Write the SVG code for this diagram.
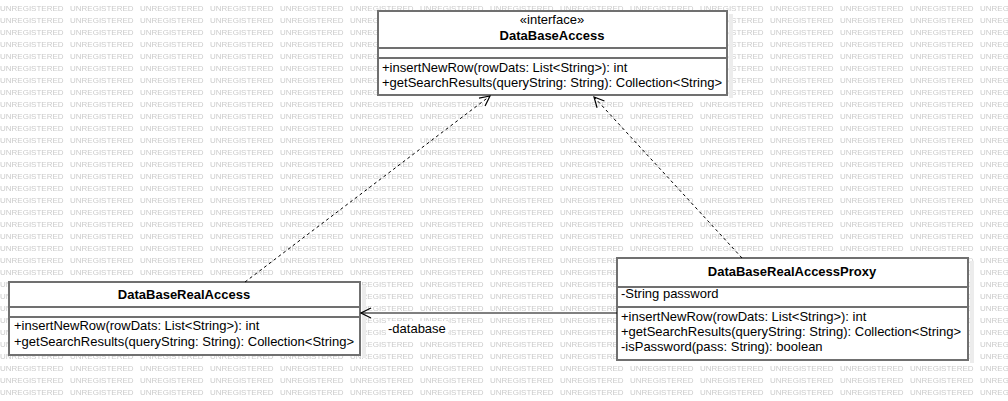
<svg xmlns="http://www.w3.org/2000/svg" width="1008" height="401" viewBox="0 0 1008 401">
<style>
.wm{font-family:"Liberation Sans",Arial,sans-serif;font-size:8px;fill:#cbcbcb;}
.box{fill:#fff;stroke:#707070;stroke-width:2;}
.shadow{fill:#ececec;}
.div{stroke:#707070;stroke-width:2;}
.t{font-family:"Liberation Sans",Arial,sans-serif;font-size:13px;fill:#000;}
.b{font-weight:bold;text-anchor:middle;}
.c{text-anchor:middle;}
.dash{fill:none;stroke:#000;stroke-width:1;stroke-dasharray:3,3;}
.solid{fill:none;stroke:#000;stroke-width:1;}
</style>
<defs>
<pattern id="wmp" x="0" y="0" width="70" height="12" patternUnits="userSpaceOnUse">
<text class="wm" x="0" y="11">UNREGISTERED</text>
</pattern>
<marker id="open" viewBox="0 0 12 12" refX="11" refY="6" markerWidth="12" markerHeight="12" markerUnits="userSpaceOnUse" orient="auto">
<path d="M1,1 L11,6 L1,11" fill="none" stroke="#000" stroke-width="1.2" stroke-dasharray="none"/>
</marker>
</defs>
<rect width="1008" height="401" fill="#fff"/>
<rect width="1008" height="401" fill="url(#wmp)"/>

<g id="node-DataBaseAccess">
<rect class="shadow" x="729" y="14" width="4" height="84"/>
<rect class="box" x="378" y="11" width="349" height="84"/>
<line class="div" x1="378" y1="48" x2="727" y2="48"/>
<line class="div" x1="378" y1="58" x2="727" y2="58"/>
<text class="t c" x="552" y="24">«interface»</text>
<text class="t b" x="552" y="40">DataBaseAccess</text>
<text class="t" x="382" y="72">+insertNewRow(rowDats: List&lt;String&gt;): int</text>
<text class="t" x="382" y="87">+getSearchResults(queryString: String): Collection&lt;String&gt;</text>
</g>

<g id="node-DataBaseRealAccess">
<rect class="shadow" x="362" y="285" width="4" height="73"/>
<rect class="box" x="9" y="282" width="351" height="73"/>
<line class="div" x1="9" y1="307" x2="360" y2="307"/>
<line class="div" x1="9" y1="317" x2="360" y2="317"/>
<text class="t b" x="184" y="299">DataBaseRealAccess</text>
<text class="t" x="14" y="330">+insertNewRow(rowDats: List&lt;String&gt;): int</text>
<text class="t" x="14" y="346">+getSearchResults(queryString: String): Collection&lt;String&gt;</text>
</g>

<g id="node-DataBaseRealAccessProxy">
<rect class="shadow" x="970" y="261" width="4" height="102"/>
<rect class="box" x="617" y="258" width="351" height="102"/>
<line class="div" x1="617" y1="287" x2="968" y2="287"/>
<line class="div" x1="617" y1="307" x2="968" y2="307"/>
<text class="t b" x="792" y="276">DataBaseRealAccessProxy</text>
<text class="t" x="621" y="298">-String password</text>
<text class="t" x="621" y="321">+insertNewRow(rowDats: List&lt;String&gt;): int</text>
<text class="t" x="621" y="336">+getSearchResults(queryString: String): Collection&lt;String&gt;</text>
<text class="t" x="621" y="351">-isPassword(pass: String): boolean</text>
</g>

<g id="connectors">
<path class="dash" d="M245,282 L490,96" marker-end="url(#open)"/>
<path class="dash" d="M742,258 L594,97" marker-end="url(#open)"/>
<path class="solid" d="M617,313 L361,313" marker-end="url(#open)"/>
<rect x="386" y="321" width="62" height="15" fill="#fff"/>
<text class="t" x="388" y="333">-database</text>
</g>
</svg>
